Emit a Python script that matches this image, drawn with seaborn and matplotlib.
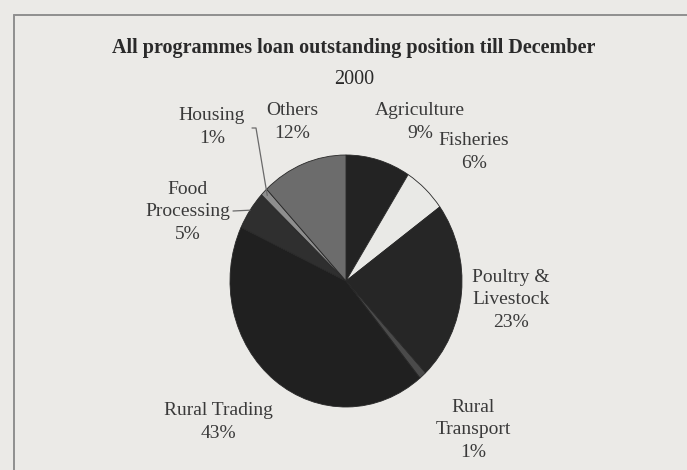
import matplotlib
matplotlib.use("Agg")
import matplotlib.pyplot as plt
import numpy as np
import seaborn as sns
from matplotlib.lines import Line2D

# Loan outstanding share by programme (%), clockwise from 12 o'clock
categories = ["Agriculture", "Fisheries", "Poultry &\nLivestock", "Rural\nTransport",
              "Rural Trading", "Food\nProcessing", "Housing", "Others"]
shares = [9, 6, 23, 1, 43, 5, 1, 12]
title_lines = ["All programmes loan outstanding position till December", "2000"]

sns.set_theme(style="white")
plt.rcParams["font.family"] = ["Liberation Serif", "DejaVu Serif"]

bg = "#ebeae7"
wedge_colors = ["#232323", "#e9e9e6", "#262626", "#4a4a4a",
                "#202020", "#2f2f2f", "#8e8e8e", "#6c6c6c"]

W, H = 687, 470
fig = plt.figure(figsize=(W / 100, H / 100), dpi=100, facecolor=bg)

# pie axes: centre (346, 281) px, radii 116 x 126 px
cx, cy, rx, ry = 346, 281, 116, 126
ax = fig.add_axes([(cx - rx) / W, (H - cy - ry) / H, 2 * rx / W, 2 * ry / H])
ax.set_facecolor(bg)

wedges, _ = ax.pie(shares, colors=wedge_colors, startangle=90, counterclock=False,
                   wedgeprops=dict(edgecolor="#282828", linewidth=0.6))
ax.set_aspect("auto")
ax.set_xlim(-1, 1)
ax.set_ylim(-1, 1)
ax.axis("off")

def px_to_data(px, py):
    return (px - cx) / rx, (cy - py) / ry

# label centres in pixels
label_px = {
    "Agriculture": (420, 122),
    "Fisheries": (474, 152),
    "Poultry &\nLivestock": (511, 300),
    "Rural\nTransport": (473, 430),
    "Rural Trading": (218, 422),
    "Food\nProcessing": (188, 212),
    "Housing": (212, 127),
    "Others": (292, 122),
}
txt_kw = dict(ha="center", va="center", fontsize=14, color="#3a3a3a",
              linespacing=1.45, clip_on=False)
for name, share in zip(categories, shares):
    x, y = px_to_data(*label_px[name])
    ax.text(x, y, f"{name}\n{share}%", **txt_kw)

# leader lines for the two narrow left-hand slices
def wedge_edge_point(w, scale=0.98):
    mid = np.deg2rad((w.theta1 + w.theta2) / 2)
    return scale * np.cos(mid), scale * np.sin(mid)

hx, hy = wedge_edge_point(wedges[6], 0.96)
x0, y0 = px_to_data(252, 128)
x1, _ = px_to_data(256, 128)
ax.plot([x0, x1, hx], [y0, y0, hy], color="#6a6a6a", lw=0.9, clip_on=False)

fx, fy = wedge_edge_point(wedges[5], 1.0)
x0, y0 = px_to_data(233, 211)
ax.plot([x0, fx], [y0, fy], color="#6a6a6a", lw=0.9, clip_on=False)

# title
fig.text(354 / W, 1 - 48 / H, title_lines[0], ha="center", va="center",
         fontsize=14.5, fontweight="bold", color="#2a2a2a")
fig.text(354 / W, 1 - 79 / H, title_lines[1], ha="center", va="center",
         fontsize=14.5, color="#2a2a2a")

# chart-area frame (top and left edges)
fig.add_artist(Line2D([14 / W, 1.0], [1 - 15 / H, 1 - 15 / H], transform=fig.transFigure,
                      color="#8f8f8f", lw=1.4))
fig.add_artist(Line2D([14 / W, 14 / W], [0.0, 1 - 15 / H], transform=fig.transFigure,
                      color="#8f8f8f", lw=1.4))

fig.savefig("out.png", dpi=100, facecolor=bg)
